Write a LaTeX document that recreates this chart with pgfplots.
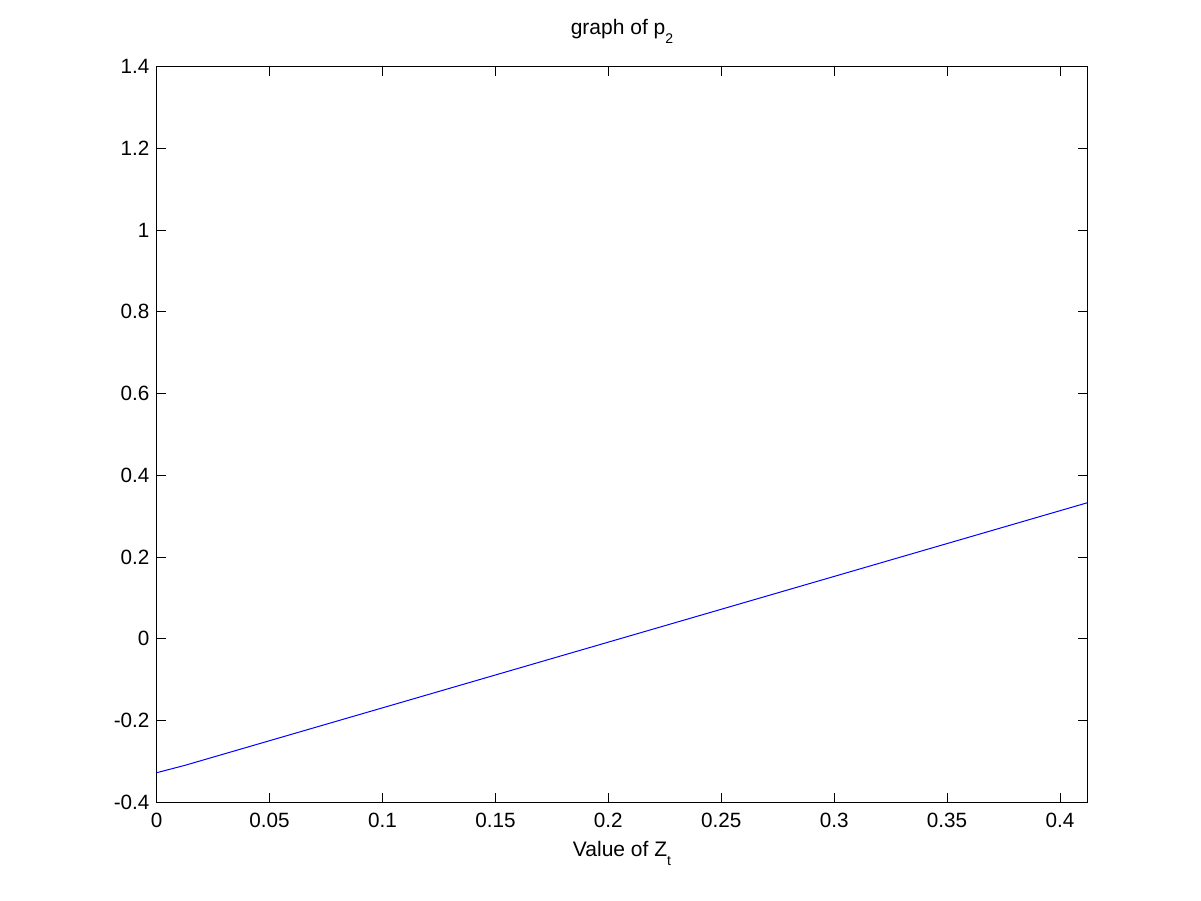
\documentclass[border=0pt]{standalone}
\usepackage{fontspec}
\setmainfont{Liberation Sans}
\usepackage{pgfplots}
\pgfplotsset{compat=1.18}
\newcommand\sub[1]{\raisebox{-0.42em}{\fontsize{8.4pt}{9pt}\selectfont #1}}
\begin{document}
\fontsize{12.4pt}{14pt}\selectfont
\begin{tikzpicture}
\path[use as bounding box] (-94.0pt,-59.2pt) rectangle (626.6pt,481.4pt);
\begin{axis}[
  at={(0,0)}, anchor=south west,
  scale only axis,
  width=558.4pt, height=441.4pt,
  xmin=0, xmax=0.4121,
  ymin=-0.4, ymax=1.4,
  xtick={0,0.05,0.1,0.15,0.2,0.25,0.3,0.35,0.4},
  xticklabels={0,0.05,0.1,0.15,0.2,0.25,0.3,0.35,0.4},
  ytick={-0.4,-0.2,0,0.2,0.4,0.6,0.8,1,1.2,1.4},
  yticklabels={-0.4,-0.2,0,0.2,0.4,0.6,0.8,1,1.2,1.4},
  scaled ticks=false,
  tick align=inside,
  major tick length=5.7pt,
  axis line style={line width=0.6pt},
  every tick/.style={black, line width=0.6pt},
  tick label style={font=\fontsize{12.4pt}{14pt}\selectfont},
  xticklabel style={yshift=-2.2pt},
  title={graph of p\sub{2}},
  title style={at={(0.5,1)}, anchor=base, yshift=13pt, font=\fontsize{12.6pt}{14pt}\selectfont},
  xlabel={Value of Z\sub{t}},
  xlabel style={at={(axis description cs:0.5,0)}, anchor=base, yshift=-32.6pt, font=\fontsize{12.6pt}{14pt}\selectfont},
]
\addplot[blue, line width=0.6pt] coordinates {(0,-0.3275) (0.0125,-0.3095) (0.4121,0.333)};
\end{axis}
\end{tikzpicture}
\end{document}
